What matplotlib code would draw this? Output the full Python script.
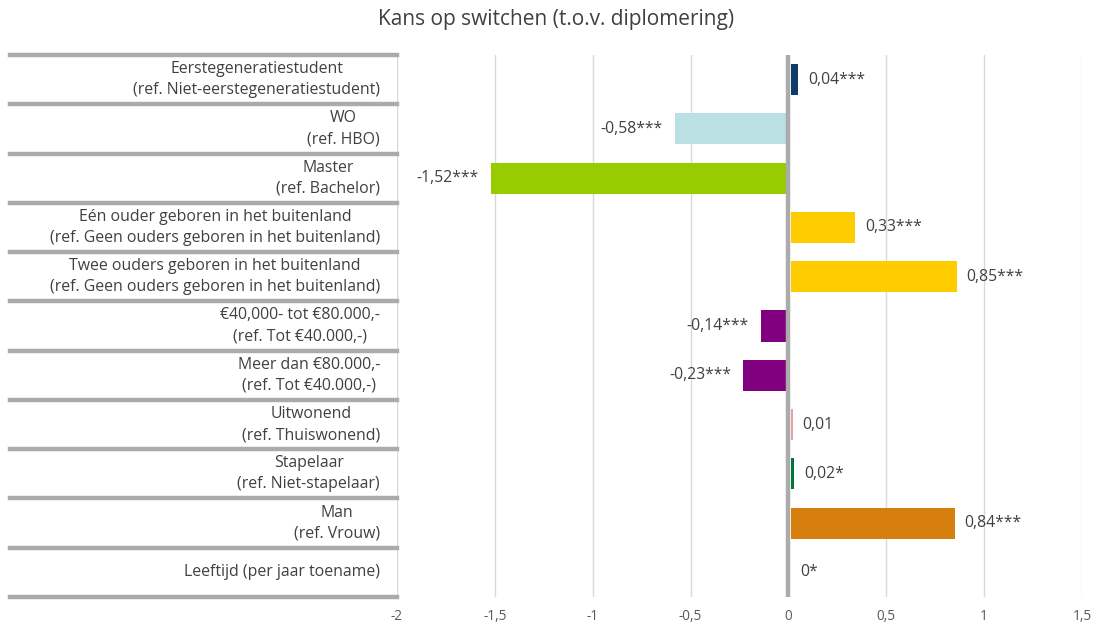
import matplotlib.pyplot as plt
from matplotlib.lines import Line2D

plt.rcParams['font.family'] = ['Open Sans', 'DejaVu Sans']

labels = [
    'Eerstegeneratiestudent\n(ref. Niet-eerstegeneratiestudent)',
    'WO\n(ref. HBO)',
    'Master\n(ref. Bachelor)',
    'Eén ouder geboren in het buitenland\n(ref. Geen ouders geboren in het buitenland)',
    'Twee ouders geboren in het buitenland\n(ref. Geen ouders geboren in het buitenland)',
    '€40,000- tot €80.000,-\n(ref. Tot €40.000,-)',
    'Meer dan €80.000,-\n(ref. Tot €40.000,-)',
    'Uitwonend\n(ref. Thuiswonend)',
    'Stapelaar\n(ref. Niet-stapelaar)',
    'Man\n(ref. Vrouw)',
    'Leeftijd (per jaar toename)',
]
values = [0.04, -0.58, -1.52, 0.33, 0.85, -0.14, -0.23, 0.01, 0.02, 0.84, 0.0]
stars = ['***', '***', '***', '***', '***', '***', '***', '', '*', '***', '*']
colors = ['#0E3C68', '#BBE0E3', '#99CC00', '#FFCC00', '#FFCC00', '#800080',
          '#800080', '#E8A0A0', '#00783C', '#D67F0E', '#D67F0E']
xticks = [-2, -1.5, -1, -0.5, 0, 0.5, 1, 1.5]

W, H = 1096, 627
fig = plt.figure(figsize=(W / 100, H / 100), dpi=100)
left, right, top, bottom = 397, 1082, 55, 597
ax = fig.add_axes([left / W, 1 - bottom / H, (right - left) / W, (bottom - top) / H])

n = len(values)
ypos = list(range(n))
starts = [0.011 if v > 0 else 0 for v in values]
ax.barh(ypos, values, height=0.63, color=colors, left=starts, zorder=3)
ax.set_ylim(n - 0.5, -0.5)
ax.set_xlim(-2, 1.5)

for x in xticks:
    if x == 0:
        ax.axvline(0, color='#ABABAB', lw=3.2, zorder=4)
    else:
        ax.axvline(x, color='#D9D9D9', lw=1, zorder=1)

for y, v, s in zip(ypos, values, stars):
    txt = ('%.2f' % v).replace('.', ',') if v != 0 else '0'
    txt += s
    if v < 0:
        ax.annotate(txt, (v, y), xytext=(-9, 0), textcoords='offset points',
                    ha='right', va='center', fontsize=11.3, color='#404040')
    else:
        ax.annotate(txt, (v + 0.011, y), xytext=(7, 0), textcoords='offset points',
                    ha='left', va='center', fontsize=11.3, color='#404040')

ax.set_xticks(xticks)
ax.set_xticklabels([str(t).replace('.', ',') if t != int(t) else str(int(t)) for t in xticks])
ax.tick_params(axis='x', length=0, labelsize=9.8, colors='#595959', pad=9)
ax.set_yticks([])
for sp in ax.spines.values():
    sp.set_visible(False)

# label table on the left
row_h = (bottom - top) / n
for i in range(n + 1):
    yy = 1 - (top + i * row_h) / H
    fig.add_artist(Line2D([10 / W, left / W], [yy, yy], color='#ABABAB', lw=3.2))
for i, lab in enumerate(labels):
    yy = 1 - (top + (i + 0.5) * row_h) / H
    fig.text(380 / W, yy, lab, ha='right', va='center', fontsize=11.4,
             color='#404040', linespacing=1.42, multialignment='center')

fig.text(556 / W, 1 - 19 / H, 'Kans op switchen (t.o.v. diplomering)',
         ha='center', va='center', fontsize=15, color='#404040')

fig.savefig('out.png', dpi=100)
